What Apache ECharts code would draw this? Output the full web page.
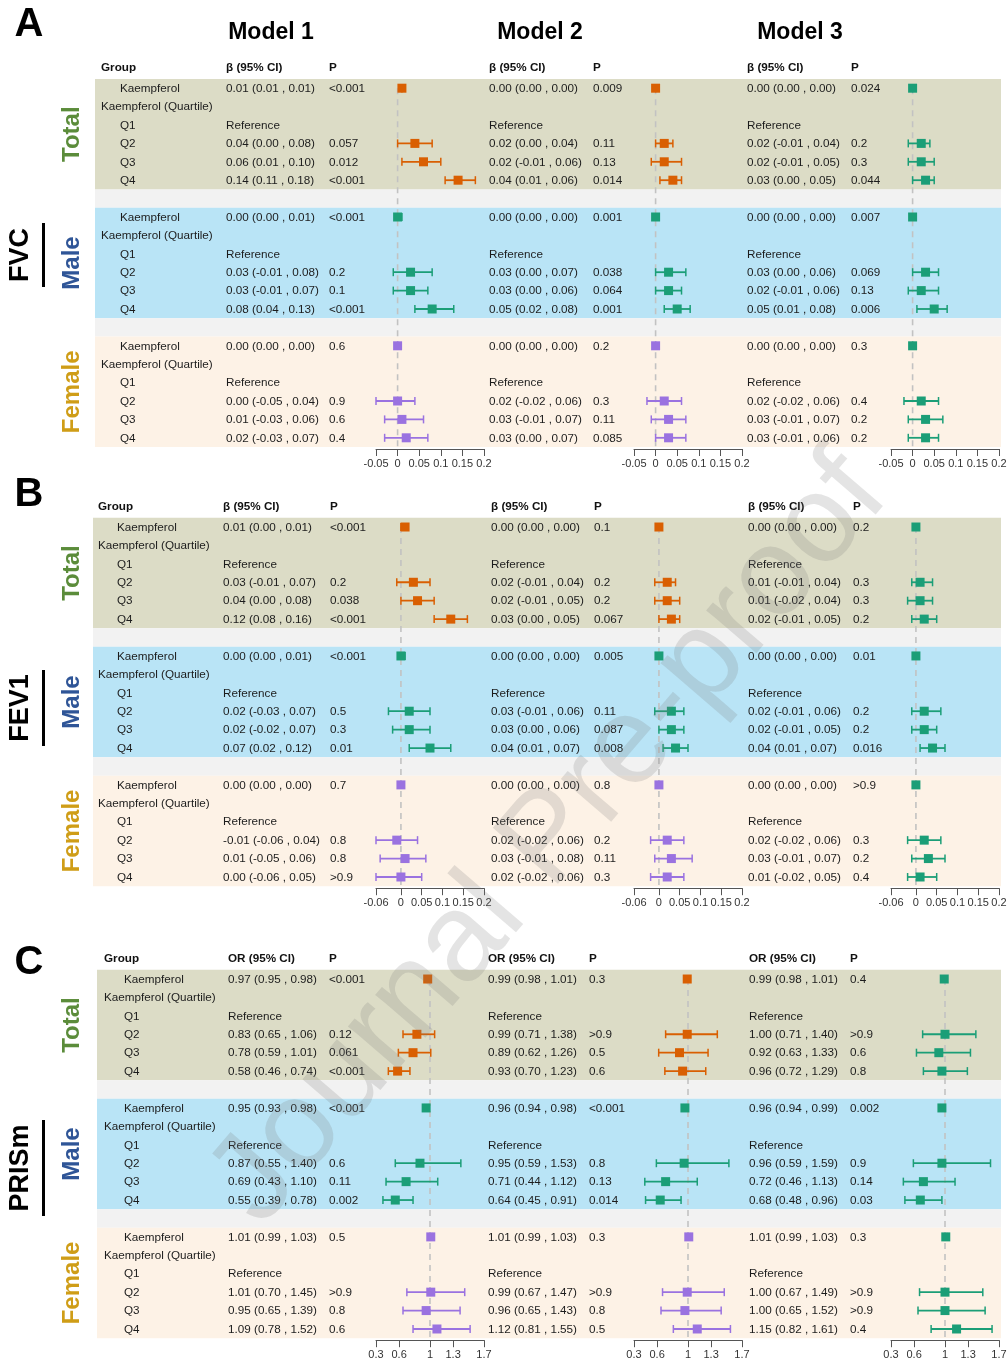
<!DOCTYPE html>
<html><head><meta charset="utf-8">
<script src="https://cdn.jsdelivr.net/npm/echarts@6/dist/echarts.min.js"></script>
<style>html,body{margin:0;padding:0;background:#fff}#c{width:1007px;height:1358px}</style>
</head><body><div id="c"></div><script>
// ---------- categories / labels ----------
const groups = ['Total','Male','Female'];
const rowLabels = ['Kaempferol','Kaempferol (Quartile)','Q1','Q2','Q3','Q4'];
const outcomes = ['FVC','FEV1','PRISm'];
const modelNames = ['Model 1','Model 2','Model 3'];
const panelLetters = ['A','B','C'];
const effectHeaders = ['β (95% CI)','β (95% CI)','OR (95% CI)'];
const tickA = [-0.05,0,0.05,0.1,0.15,0.2];
const tickB = [-0.06,0,0.05,0.1,0.15,0.2];
const tickC = [0.3,0.6,1,1.3,1.7];

// ---------- data: per group (Total, Male, Female) rows Kaempferol, Q2, Q3, Q4 ----------
const FVC_M1_EST = [0.01,0.04,0.06,0.14, 0.00,0.03,0.03,0.08, 0.00,0.00,0.01,0.02];
const FVC_M1_LO  = [0.01,0.00,0.01,0.11, 0.00,-0.01,-0.01,0.04, 0.00,-0.05,-0.03,-0.03];
const FVC_M1_HI  = [0.01,0.08,0.10,0.18, 0.01,0.08,0.07,0.13, 0.00,0.04,0.06,0.07];
const FVC_M1_P   = ['<0.001','0.057','0.012','<0.001', '<0.001','0.2','0.1','<0.001', '0.6','0.9','0.6','0.4'];

const FVC_M2_EST = [0.00,0.02,0.02,0.04, 0.00,0.03,0.03,0.05, 0.00,0.02,0.03,0.03];
const FVC_M2_LO  = [0.00,0.00,-0.01,0.01, 0.00,0.00,0.00,0.02, 0.00,-0.02,-0.01,0.00];
const FVC_M2_HI  = [0.00,0.04,0.06,0.06, 0.00,0.07,0.06,0.08, 0.00,0.06,0.07,0.07];
const FVC_M2_P   = ['0.009','0.11','0.13','0.014', '0.001','0.038','0.064','0.001', '0.2','0.3','0.11','0.085'];

const FVC_M3_EST = [0.00,0.02,0.02,0.03, 0.00,0.03,0.02,0.05, 0.00,0.02,0.03,0.03];
const FVC_M3_LO  = [0.00,-0.01,-0.01,0.00, 0.00,0.00,-0.01,0.01, 0.00,-0.02,-0.01,-0.01];
const FVC_M3_HI  = [0.00,0.04,0.05,0.05, 0.00,0.06,0.06,0.08, 0.00,0.06,0.07,0.06];
const FVC_M3_P   = ['0.024','0.2','0.3','0.044', '0.007','0.069','0.13','0.006', '0.3','0.4','0.2','0.2'];

const FEV1_M1_EST = [0.01,0.03,0.04,0.12, 0.00,0.02,0.02,0.07, 0.00,-0.01,0.01,0.00];
const FEV1_M1_LO  = [0.00,-0.01,0.00,0.08, 0.00,-0.03,-0.02,0.02, 0.00,-0.06,-0.05,-0.06];
const FEV1_M1_HI  = [0.01,0.07,0.08,0.16, 0.01,0.07,0.07,0.12, 0.00,0.04,0.06,0.05];
const FEV1_M1_P   = ['<0.001','0.2','0.038','<0.001', '<0.001','0.5','0.3','0.01', '0.7','0.8','0.8','>0.9'];

const FEV1_M2_EST = [0.00,0.02,0.02,0.03, 0.00,0.03,0.03,0.04, 0.00,0.02,0.03,0.02];
const FEV1_M2_LO  = [0.00,-0.01,-0.01,0.00, 0.00,-0.01,0.00,0.01, 0.00,-0.02,-0.01,-0.02];
const FEV1_M2_HI  = [0.00,0.04,0.05,0.05, 0.00,0.06,0.06,0.07, 0.00,0.06,0.08,0.06];
const FEV1_M2_P   = ['0.1','0.2','0.2','0.067', '0.005','0.11','0.087','0.008', '0.8','0.2','0.11','0.3'];

const FEV1_M3_EST = [0.00,0.01,0.01,0.02, 0.00,0.02,0.02,0.04, 0.00,0.02,0.03,0.01];
const FEV1_M3_LO  = [0.00,-0.01,-0.02,-0.01, 0.00,-0.01,-0.01,0.01, 0.00,-0.02,-0.01,-0.02];
const FEV1_M3_HI  = [0.00,0.04,0.04,0.05, 0.00,0.06,0.05,0.07, 0.00,0.06,0.07,0.05];
const FEV1_M3_P   = ['0.2','0.3','0.3','0.2', '0.01','0.2','0.2','0.016', '>0.9','0.3','0.2','0.4'];

const PRISM_M1_EST = [0.97,0.83,0.78,0.58, 0.95,0.87,0.69,0.55, 1.01,1.01,0.95,1.09];
const PRISM_M1_LO  = [0.95,0.65,0.59,0.46, 0.93,0.55,0.43,0.39, 0.99,0.70,0.65,0.78];
const PRISM_M1_HI  = [0.98,1.06,1.01,0.74, 0.98,1.40,1.10,0.78, 1.03,1.45,1.39,1.52];
const PRISM_M1_P   = ['<0.001','0.12','0.061','<0.001', '<0.001','0.6','0.11','0.002', '0.5','>0.9','0.8','0.6'];

const PRISM_M2_EST = [0.99,0.99,0.89,0.93, 0.96,0.95,0.71,0.64, 1.01,0.99,0.96,1.12];
const PRISM_M2_LO  = [0.98,0.71,0.62,0.70, 0.94,0.59,0.44,0.45, 0.99,0.67,0.65,0.81];
const PRISM_M2_HI  = [1.01,1.38,1.26,1.23, 0.98,1.53,1.12,0.91, 1.03,1.47,1.43,1.55];
const PRISM_M2_P   = ['0.3','>0.9','0.5','0.6', '<0.001','0.8','0.13','0.014', '0.3','>0.9','0.8','0.5'];

const PRISM_M3_EST = [0.99,1.00,0.92,0.96, 0.96,0.96,0.72,0.68, 1.01,1.00,1.00,1.15];
const PRISM_M3_LO  = [0.98,0.71,0.63,0.72, 0.94,0.59,0.46,0.48, 0.99,0.67,0.65,0.82];
const PRISM_M3_HI  = [1.01,1.40,1.33,1.29, 0.99,1.59,1.13,0.96, 1.03,1.49,1.52,1.61];
const PRISM_M3_P   = ['0.4','>0.9','0.6','0.8', '0.002','0.9','0.14','0.03', '0.3','>0.9','>0.9','0.4'];

const DATA = [
  [{est:FVC_M1_EST,lo:FVC_M1_LO,hi:FVC_M1_HI,p:FVC_M1_P},{est:FVC_M2_EST,lo:FVC_M2_LO,hi:FVC_M2_HI,p:FVC_M2_P},{est:FVC_M3_EST,lo:FVC_M3_LO,hi:FVC_M3_HI,p:FVC_M3_P}],
  [{est:FEV1_M1_EST,lo:FEV1_M1_LO,hi:FEV1_M1_HI,p:FEV1_M1_P},{est:FEV1_M2_EST,lo:FEV1_M2_LO,hi:FEV1_M2_HI,p:FEV1_M2_P},{est:FEV1_M3_EST,lo:FEV1_M3_LO,hi:FEV1_M3_HI,p:FEV1_M3_P}],
  [{est:PRISM_M1_EST,lo:PRISM_M1_LO,hi:PRISM_M1_HI,p:PRISM_M1_P},{est:PRISM_M2_EST,lo:PRISM_M2_LO,hi:PRISM_M2_HI,p:PRISM_M2_P},{est:PRISM_M3_EST,lo:PRISM_M3_LO,hi:PRISM_M3_HI,p:PRISM_M3_P}]
];

// ---------- styles / layout ----------
const FONT = '"Liberation Sans", Arial, Helvetica, sans-serif';
const BAND_COLORS = ['#dcdcc6','#b9e4f6','#fdf2e6','#f2f2f2'];
const GROUP_COLORS = ['#5b8c3a','#2f5597','#cf9d17'];
const ORANGE='#d95f02', GREEN='#1b9e77', PURPLE='#9a72e0';
const MARK_COLORS = [[ORANGE,ORANGE,GREEN],[GREEN,GREEN,GREEN],[PURPLE,PURPLE,GREEN]]; // [group][model]
const AX_L = [376, 634, 891], AX_W = 108;
const TXT = 11.7;
const layout = [
  {top:79,    rowH:18.4,  bandL:95, xGroup:101, xSub:120, xCI:[226,489,747], xP:[329,593,851], letterY:25,  outY:255},
  {top:517.8, rowH:18.42, bandL:93, xGroup:98,  xSub:117, xCI:[223,491,748], xP:[330,594,853], letterY:495, outY:708},
  {top:969.8, rowH:18.42, bandL:97, xGroup:104, xSub:124, xCI:[228,488,749], xP:[329,589,850], letterY:963, outY:1168}
];
const axisSpec = [
  {min:-0.05, max:0.2, ticks:tickA, ref:0},
  {min:-0.06, max:0.2, ticks:tickB, ref:0},
  {min:0.3,   max:1.7, ticks:tickC, ref:1}
];
const fmt = v => v.toFixed(2);

const grid=[], xAxis=[], yAxis=[], series=[], graphic=[];
const rowsCat = Array.from({length:20},(_,i)=>'r'+i);

layout.forEach((L,p)=>{
  const H = 20*L.rowH;
  // wide grid for bands and text
  const gi = grid.length;
  grid.push({left:0, top:L.top, width:1007, height:H, outerBoundsMode:'none'});
  xAxis.push({gridIndex:gi, type:'value', min:0, max:1007, show:false});
  yAxis.push({gridIndex:gi, type:'category', data:rowsCat, inverse:true, show:false});
  const bandData = [[0,5,0],[6,6,3],[7,12,1],[13,13,3],[14,19,2]];
  series.push({type:'custom', xAxisIndex:gi, yAxisIndex:gi, z:0, silent:true, data:bandData,
    renderItem:(params,api)=>{
      const a=api.coord([L.bandL, api.value(0)]), b=api.coord([1001, api.value(1)]);
      const h=api.size([0,1])[1];
      return {type:'rect', shape:{x:a[0], y:a[1]-h/2, width:b[0]-a[0], height:b[1]-a[1]+h},
        style:{fill:BAND_COLORS[api.value(2)]}};
    }});
  // row texts
  const texts=[];
  for(let g=0; g<3; g++){
    const base=g*7;
    texts.push({x:L.xSub, row:base, t:rowLabels[0]});
    texts.push({x:L.xGroup, row:base+1, t:rowLabels[1]});
    for(let q=2;q<6;q++) texts.push({x:L.xSub, row:base+q, t:rowLabels[q]});
    for(let m=0;m<3;m++){
      const D=DATA[p][m];
      texts.push({x:L.xCI[m], row:base+2, t:'Reference'});
      for(let k=0;k<4;k++){
        const idx=g*4+k, row=base+(k===0?0:k+2);
        texts.push({x:L.xCI[m], row, t:fmt(D.est[idx])+' ('+fmt(D.lo[idx])+' , '+fmt(D.hi[idx])+')'});
        texts.push({x:L.xP[m], row, t:D.p[idx]});
      }
    }
  }
  series.push({type:'custom', xAxisIndex:gi, yAxisIndex:gi, z:2, silent:true,
    data:texts.map((t,i)=>[t.x, t.row, i]),
    renderItem:(params,api)=>{
      const c=api.coord([api.value(0), api.value(1)]);
      return {type:'text', x:c[0], y:c[1]+0.5, style:{text:texts[api.value(2)].t, fontSize:TXT, fontFamily:FONT,
        fill:'#1c1c1c', align:'left', verticalAlign:'middle'}};
    }});

  // forest grids
  const A=axisSpec[p];
  for(let m=0;m<3;m++){
    const g2=grid.length;
    grid.push({left:AX_L[m], top:L.top, width:AX_W, height:H, outerBoundsMode:'none'});
    xAxis.push({gridIndex:g2, type:'value', min:A.min, max:A.max, offset:2,
      axisLine:{show:true, onZero:false, lineStyle:{color:'#555', width:1}},
      axisTick:{show:true, length:7, customValues:A.ticks, lineStyle:{color:'#555', width:1}},
      axisLabel:{show:true, customValues:A.ticks, fontSize:11, color:'#333', margin:9, fontFamily:FONT,
        hideOverlap:false, showMinLabel:true, showMaxLabel:true, formatter:v=>String(v)},
      splitLine:{show:false}});
    yAxis.push({gridIndex:g2, type:'category', data:rowsCat, inverse:true, show:false});
    series.push({type:'custom', xAxisIndex:g2, yAxisIndex:g2, z:3, silent:true, data:[[A.ref,0]],
      renderItem:(params,api)=>{
        const c=api.coord([api.value(0), api.value(1)]);
        const cs=params.coordSys;
        return {type:'line', shape:{x1:c[0], y1:c[1], x2:c[0], y2:cs.y+cs.height+2},
          style:{stroke:'#c2c2c2', lineWidth:1.6, lineDash:[6,5]}};
      }});
    const D=DATA[p][m];
    const pts=[];
    for(let g=0;g<3;g++) for(let k=0;k<4;k++){
      const idx=g*4+k;
      pts.push([D.est[idx], D.lo[idx], D.hi[idx], g*7+(k===0?0:k+2), g]);
    }
    series.push({type:'custom', xAxisIndex:g2, yAxisIndex:g2, z:4, silent:true, data:pts,
      encode:{x:[0,1,2], y:3},
      renderItem:(params,api)=>{
        const row=api.value(3), col=MARK_COLORS[api.value(4)][m];
        const c=api.coord([api.value(0),row]), l=api.coord([api.value(1),row]), h=api.coord([api.value(2),row]);
        const cap=4, s=4.5, y=c[1];
        return {type:'group', children:[
          {type:'line', shape:{x1:l[0],y1:y,x2:h[0],y2:y}, style:{stroke:col,lineWidth:1.8}},
          {type:'line', shape:{x1:l[0],y1:y-cap,x2:l[0],y2:y+cap}, style:{stroke:col,lineWidth:1.5}},
          {type:'line', shape:{x1:h[0],y1:y-cap,x2:h[0],y2:y+cap}, style:{stroke:col,lineWidth:1.5}},
          {type:'rect', shape:{x:c[0]-s,y:y-s,width:2*s,height:2*s}, style:{fill:col}}
        ]};
      }});
  }

  // headers
  const hy = L.top - 11;
  graphic.push({type:'text', x:L.xGroup, y:hy, style:{text:'Group', fontSize:TXT, fontWeight:'bold', fontFamily:FONT, fill:'#111', align:'left', verticalAlign:'middle'}});
  for(let m=0;m<3;m++){
    graphic.push({type:'text', x:L.xCI[m], y:hy, style:{text:effectHeaders[p], fontSize:TXT, fontWeight:'bold', fontFamily:FONT, fill:'#111', align:'left', verticalAlign:'middle'}});
    graphic.push({type:'text', x:L.xP[m], y:hy, style:{text:'P', fontSize:TXT, fontWeight:'bold', fontFamily:FONT, fill:'#111', align:'left', verticalAlign:'middle'}});
  }
  // panel letter
  graphic.push({type:'text', x:29, y:L.letterY, style:{text:panelLetters[p], fontSize:40, fontWeight:'bold', fontFamily:FONT, fill:'#000', align:'center', verticalAlign:'middle'}});
  // group labels
  for(let g=0; g<3; g++){
    const cy = L.top + (g*7+3)*L.rowH;
    graphic.push({type:'text', x:72, y:cy, rotation:Math.PI/2, style:{text:groups[g], fontSize:24, fontWeight:'bold', fontFamily:FONT, fill:GROUP_COLORS[g], align:'center', verticalAlign:'middle'}});
  }
  // outcome label and bar
  const oLen = [58, 70, 90][p];
  graphic.push({type:'text', x:21, y:L.outY, rotation:Math.PI/2, style:{text:outcomes[p], fontSize:27, fontWeight:'bold', fontFamily:FONT, fill:'#000', align:'center', verticalAlign:'middle'}});
  graphic.push({type:'rect', shape:{x:42, y:L.outY-oLen/2-3, width:3, height:oLen+6}, style:{fill:'#000'}});
});

// model titles
const titleX=[271,540,800];
modelNames.forEach((t,m)=>graphic.push({type:'text', x:titleX[m], y:33, style:{text:t, fontSize:23, fontWeight:'bold', fontFamily:FONT, fill:'#000', align:'center', verticalAlign:'middle'}}));
// watermark
graphic.push({type:'text', x:550, y:840, rotation:0.86, z:100, silent:true,
  style:{text:'Journal Pre-proof', fontSize:125, fontFamily:FONT, fill:'rgba(120,120,120,0.2)', align:'center', verticalAlign:'middle'}});

const chart = echarts.init(document.getElementById('c'), null, {renderer:'canvas'});
chart.setOption({animation:false, backgroundColor:'#fff', grid, xAxis, yAxis, series, graphic});
</script></body></html>
